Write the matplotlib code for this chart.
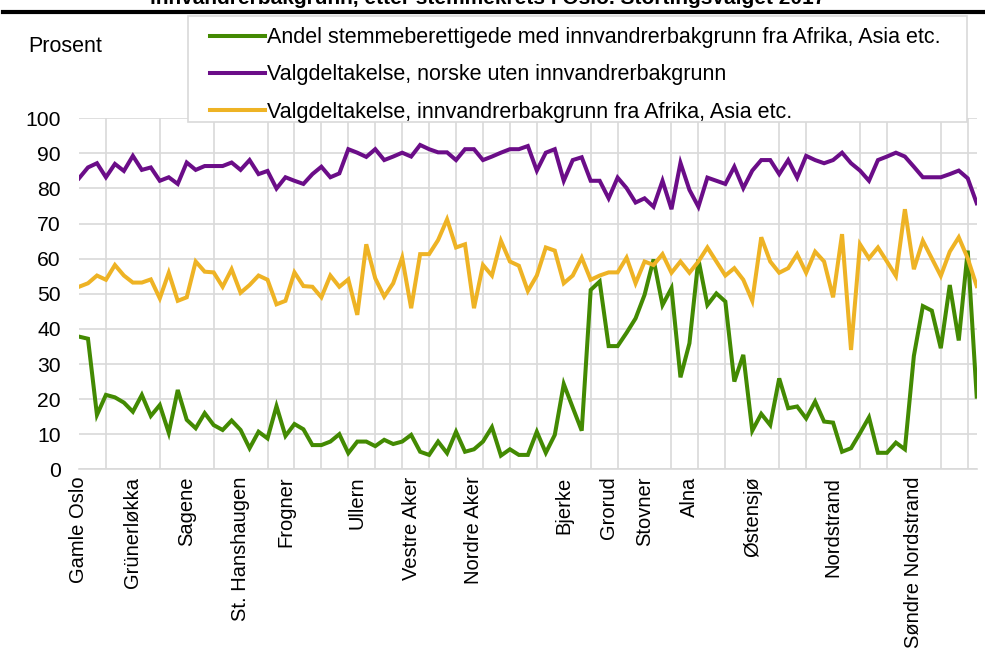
import matplotlib

matplotlib.use("Agg")
import matplotlib.pyplot as plt
from matplotlib.lines import Line2D
from matplotlib.patches import Rectangle

plt.rcParams["font.family"] = ["Liberation Sans", "DejaVu Sans"]

# 101 stemmekretser, i bydelsrekkefølge
andel_innv = [
    37.8, 37.2, 15.5, 21.2, 20.5, 19.0, 16.4, 21.2, 15.2, 18.3,
    10.4, 22.6, 14.1, 11.7, 16.0, 12.6, 11.2, 13.9, 11.2, 6.0,
    10.7, 8.8, 18.0, 9.5, 12.9, 11.4, 6.9, 6.9, 7.9, 10.0,
    4.6, 7.9, 7.9, 6.6, 8.4, 7.2, 7.9, 9.8, 5.0, 4.1,
    7.9, 4.6, 10.7, 5.0, 5.7, 7.9, 12.0, 3.9, 5.7, 4.1,
    4.1, 10.7, 4.7, 9.8, 24.3, 17.6, 11.0, 51.1, 53.5, 35.1,
    35.1, 38.9, 43.0, 49.7, 59.8, 46.8, 51.6, 26.2, 35.9, 59.8,
    46.8, 50.1, 47.8, 25.0, 32.6, 11.0, 15.8, 12.6, 25.9, 17.4,
    17.9, 14.5, 19.3, 13.6, 13.3, 5.0, 6.0, 10.3, 14.8, 4.7,
    4.7, 7.6, 5.7, 32.3, 46.5, 45.2, 34.5, 52.5, 36.7, 62.3,
    20.7,
]
deltak_norske = [
    82.9, 86.0, 87.2, 83.2, 87.0, 85.0, 89.3, 85.3, 86.0, 82.2,
    83.2, 81.3, 87.4, 85.3, 86.4, 86.4, 86.4, 87.4, 85.3, 88.1,
    84.1, 85.0, 80.0, 83.2, 82.2, 81.3, 84.1, 86.2, 83.2, 84.3,
    91.2, 90.2, 89.0, 91.2, 88.1, 89.1, 90.2, 89.1, 92.4, 91.2,
    90.3, 90.3, 88.1, 91.2, 91.2, 88.1, 89.1, 90.2, 91.2, 91.2,
    92.1, 85.1, 90.2, 91.2, 82.2, 88.1, 88.9, 82.2, 82.2, 77.2,
    83.1, 80.1, 76.0, 77.2, 74.8, 82.2, 74.1, 87.3, 79.6, 74.8,
    83.1, 82.2, 81.3, 86.2, 80.1, 85.1, 88.1, 88.1, 84.1, 88.1,
    83.1, 89.3, 88.1, 87.2, 88.1, 90.2, 87.2, 85.1, 82.2, 88.1,
    89.1, 90.2, 89.1, 86.2, 83.2, 83.2, 83.2, 84.1, 85.1, 82.9,
    75.8,
]
deltak_innv = [
    52.0, 53.0, 55.2, 54.0, 58.2, 55.2, 53.2, 53.2, 54.1, 48.7,
    56.0, 48.0, 49.0, 59.2, 56.3, 56.1, 52.0, 57.0, 50.3, 52.5,
    55.2, 54.0, 47.0, 48.0, 56.1, 52.2, 52.0, 49.0, 55.2, 52.0,
    54.1, 44.0, 64.1, 54.4, 49.2, 53.0, 60.3, 45.9, 61.3, 61.3,
    65.3, 71.2, 63.2, 64.1, 45.9, 58.2, 55.2, 65.1, 59.2, 58.0,
    50.8, 55.2, 63.2, 62.3, 53.0, 55.2, 60.3, 54.0, 55.2, 56.1,
    56.1, 60.3, 53.0, 59.2, 58.2, 61.3, 56.0, 59.2, 56.0, 59.2,
    63.2, 59.2, 55.2, 57.3, 54.0, 48.0, 66.1, 59.2, 56.0, 57.3,
    61.3, 56.0, 62.0, 59.2, 49.0, 67.0, 34.0, 64.1, 60.1, 63.2,
    59.2, 55.1, 74.1, 57.0, 65.1, 60.1, 55.1, 62.0, 66.1, 60.1,
    52.2,
]

# første stemmekrets i hver bydel får navnet som etikett
bydel_pos = [0, 6, 12, 18, 23, 31, 37, 44, 54, 59, 63, 68, 75, 84, 93]
bydel_navn = [
    "Gamle Oslo", "Grünerløkka", "Sagene", "St. Hanshaugen", "Frogner",
    "Ullern", "Vestre Aker", "Nordre Aker", "Bjerke", "Grorud", "Stovner",
    "Alna", "Østensjø", "Nordstrand", "Søndre Nordstrand",
]
serie_navn = [
    "Andel stemmeberettigede med innvandrerbakgrunn fra Afrika, Asia etc.",
    "Valgdeltakelse, norske uten innvandrerbakgrunn",
    "Valgdeltakelse, innvandrerbakgrunn fra Afrika, Asia etc.",
]
farger = ["#438A02", "#6B0D88", "#EEB325"]

W, H = 985, 657
fig = plt.figure(figsize=(W / 100, H / 100), dpi=100)
ax = fig.add_axes([79 / W, 1 - 469.3 / H, (976.7 - 79) / W, (469.3 - 118.3) / H])

x = list(range(len(andel_innv)))
linjer = []
for serie, farge in zip([andel_innv, deltak_norske, deltak_innv], farger):
    (ln,) = ax.plot(x, serie, color=farge, lw=2.9, solid_joinstyle="miter", zorder=3)
    linjer.append(ln)

ax.set_xlim(0, len(x) - 1)
ax.set_ylim(0, 100)
ax.set_yticks(range(0, 101, 10))
ax.tick_params(axis="y", length=0, pad=13, labelsize=15.2)

# rutenett: hver 3. krets vertikalt, hver 10. prosent horisontalt
ax.set_xticks(range(0, len(x), 3), minor=True)
ax.set_xticks(bydel_pos)
ax.set_xticklabels(bydel_navn, rotation=90, fontsize=14.5)
ax.tick_params(axis="x", which="both", length=0, pad=5.3)
ax.grid(axis="x", which="minor", color="#D9D9D9", lw=1.2)
ax.grid(axis="y", which="major", color="#D9D9D9", lw=1.2)
ax.set_axisbelow(True)
for side in ["top", "right", "left"]:
    ax.spines[side].set_visible(False)
ax.spines["bottom"].set_color("#D9D9D9")
ax.spines["bottom"].set_linewidth(1.2)

fig.text(28 / W, 1 - 46 / H, "Prosent", fontsize=15.5, va="center", ha="left")

# avkuttet tittel og tykk strek øverst
fig.text(488 / W, 1 - 4 / H, "innvandrerbakgrunn, etter stemmekrets i Oslo. Stortingsvalget 2017",
         fontsize=15, fontweight="bold", ha="center", va="baseline")
fig.add_artist(Line2D([0.003, 1], [1 - 12 / H] * 2, color="black", lw=3))

# tegnforklaring i hvit boks som dekker toppen av plottet
fig.add_artist(Rectangle((188 / W, 1 - 122 / H), (967 - 188) / W, (122 - 16) / H,
                         transform=fig.transFigure, facecolor="white",
                         edgecolor="#D9D9D9", lw=1.2, zorder=4))
fig.legend(linjer, serie_navn, loc="upper left", bbox_to_anchor=(193 / W, 1 - 10 / H),
           frameon=False, fontsize=15.5, handlelength=2.56, handletextpad=0.1,
           labelspacing=0.75, borderpad=0.3)

fig.savefig("out.png", dpi=100)
